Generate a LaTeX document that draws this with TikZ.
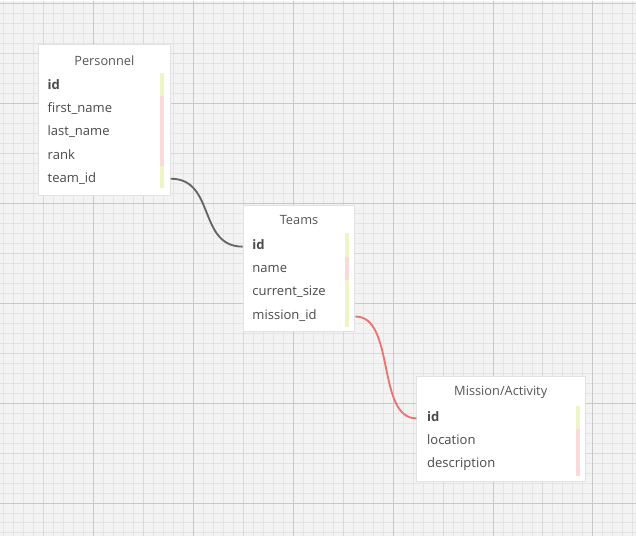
\documentclass[tikz,border=0pt]{standalone}
\usepackage{fontspec}
\setmainfont{Open Sans}
\usetikzlibrary{fit}
\definecolor{canvas}{HTML}{F3F3F3}
\definecolor{gridminor}{HTML}{E4E4E4}
\definecolor{gridmid}{HTML}{D8D8D8}
\definecolor{gridmajor}{HTML}{C8C8C8}
\definecolor{textgray}{HTML}{4A4A4A}
\definecolor{titlegray}{HTML}{555555}
\definecolor{keybar}{HTML}{EEF3C8}
\definecolor{plainbar}{HTML}{F9DADA}
\definecolor{linkgray}{HTML}{666666}
\definecolor{linkred}{HTML}{E8756F}
\definecolor{boxedge}{HTML}{E2E2E2}
\begin{document}
\begin{tikzpicture}[x=0.75pt,y=-0.75pt,
  tablebox/.style={draw=boxedge, line width=0.75pt, fill=white, inner sep=0pt},
  title/.style={font=\fontsize{9.6pt}{11pt}\selectfont, text=titlegray, inner sep=0pt},
  row/.style={font=\fontsize{9.8pt}{11pt}\selectfont, text=textgray, anchor=west, inner sep=0pt, text height=0.72em, text depth=0.22em},
  link/.style={line width=1.4pt}]
% canvas and grid
\fill[canvas] (0,0) rectangle (636,536);
\foreach \v in {3.3,13.3,...,636} {
  \draw[gridminor, line width=0.75pt] (\v,0) -- (\v,536);
}
\foreach \v in {3.3,13.3,...,536} {
  \draw[gridminor, line width=0.75pt] (0,\v) -- (636,\v);
}
\foreach \v in {43.3,143.3,...,636} \draw[gridmid, line width=0.75pt] (\v,0) -- (\v,536);
\foreach \v in {53.3,153.3,...,536} \draw[gridmid, line width=0.75pt] (0,\v) -- (636,\v);
\foreach \v in {93.3,193.3,...,636} \draw[gridmajor, line width=0.75pt] (\v,0) -- (\v,536);
\foreach \v in {3.3,103.3,...,536} \draw[gridmajor, line width=0.75pt] (0,\v) -- (636,\v);
\useasboundingbox (0,0) rectangle (636,536);

% Personnel
\node[tablebox, fit={(38,44) (170,195)}] (pbox) {};
\node[title] (ptitle) at (104,60) {Personnel};
\fill[keybar] (160,73) rectangle (164,96);
\fill[plainbar] (160,96) rectangle (164,166);
\fill[keybar] (160,166) rectangle (164,188);
\node[row] (p-id) at (47,85.5) {\textbf{id}};
\node[row] (p-first) at (47,108.5) {first\_name};
\node[row] (p-last) at (47,131.5) {last\_name};
\node[row] (p-rank) at (47,155.5) {rank};
\node[row] (p-team) at (47,178.5) {team\_id};

% Teams
\node[tablebox, fit={(243,205) (355,332)}] (tbox) {};
\node[title] (ttitle) at (299,220) {Teams};
\fill[keybar] (345,233) rectangle (349,257);
\fill[plainbar] (345,257) rectangle (349,280);
\fill[keybar] (345,280) rectangle (349,327);
\node[row] (t-id) at (252,246.5) {\textbf{id}};
\node[row] (t-name) at (252,269.5) {name};
\node[row] (t-size) at (252,292.5) {current\_size};
\node[row] (t-mission) at (252,316.5) {mission\_id};

% Mission/Activity
\node[tablebox, fit={(417,377) (586,482)}] (mbox) {};
\node[title] (mtitle) at (501,392) {Mission/Activity};
\fill[keybar] (576,406) rectangle (580,429);
\fill[plainbar] (576,429) rectangle (580,476);
\node[row] (m-id) at (427,418.5) {\textbf{id}};
\node[row] (m-loc) at (427,441.5) {location};
\node[row] (m-desc) at (427,464.5) {description};

% relations
\draw[link, linkgray] (pbox.east |- p-team) .. controls +(45,0) and +(-45,0) .. (tbox.west |- t-id);
\draw[link, linkred] (tbox.east |- t-mission) .. controls +(40,0) and +(-40,0) .. (mbox.west |- m-id);
\end{tikzpicture}
\end{document}
